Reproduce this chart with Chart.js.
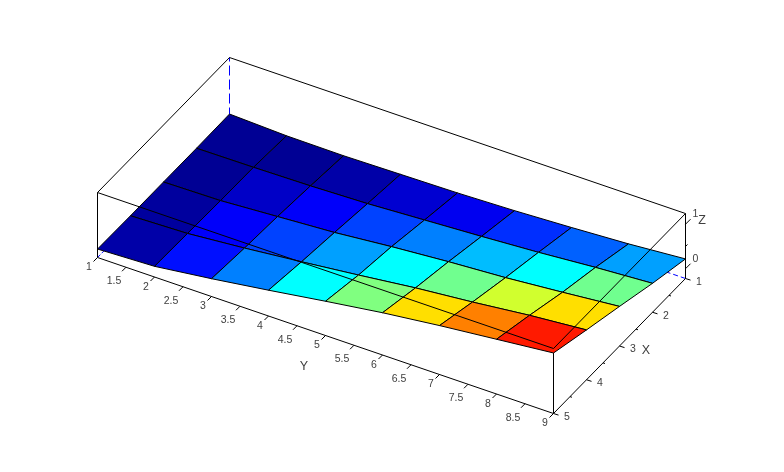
<!DOCTYPE html>
<html>
<head>
<meta charset="utf-8">
<title>Surface</title>
<script src="https://cdn.jsdelivr.net/npm/chart.js@4/dist/chart.umd.min.js"></script>
<style>
    html, body { margin: 0; padding: 0; background: #ffffff; }
    canvas { display: block; }
</style>
</head>
<body>
<canvas id="surface" width="784" height="472"></canvas>
<script>
const xVals = [1, 2, 3, 4, 5];
const yVals = [1, 2, 3, 4, 5, 6, 7, 8, 9];

// surface height, one row per x value
const z1 = [-0.03, -0.08, -0.09, -0.07, -0.05, -0.01, 0.05, 0.12, 0.22];
const z2 = [-0.04, -0.03, -0.01, 0.03, 0.10, 0.17, 0.25, 0.35, 0.43];
const z3 = [-0.04, -0.02, 0.06, 0.14, 0.26, 0.36, 0.44, 0.55, 0.67];
const z4 = [-0.04, 0.00, 0.11, 0.24, 0.38, 0.53, 0.65, 0.79, 0.90];
const z5 = [-0.03, 0.02, 0.18, 0.36, 0.55, 0.73, 0.88, 1.01, 1.14];
const zRows = [z1, z2, z3, z4, z5];

// face colour values (0..1 on the jet map), one row per x interval
const c1 = [0.02, 0.02, 0.04, 0.08, 0.11, 0.17, 0.22, 0.282];
const c2 = [0.02, 0.07, 0.12, 0.19, 0.25, 0.31, 0.375, 0.485];
const c3 = [0.03, 0.12, 0.19, 0.282, 0.375, 0.485, 0.58, 0.656];
const c4 = [0.04, 0.14, 0.25, 0.375, 0.5, 0.656, 0.75, 0.85];
const colorRows = [c1, c2, c3, c4];

const xTicks = [1, 1.5, 2, 2.5, 3, 3.5, 4, 4.5, 5];
const xTickLabels = ['1', '', '2', '', '3', '', '4', '', '5'];
const yTicks = [1, 1.5, 2, 2.5, 3, 3.5, 4, 4.5, 5, 5.5, 6, 6.5, 7, 7.5, 8, 8.5, 9];
const yTickLabels = ['1', '1.5', '2', '2.5', '3', '3.5', '4', '4.5', '5', '5.5', '6', '6.5', '7', '7.5', '8', '8.5', '9'];
const zTicks = [0, 0.5, 1];
const zTickLabels = ['0', '', '1'];
const zMin = -0.22;
const zMax = 1.24;

// view of the 3D box on the page
function project(x, y, z) {
    return {
        x: 229.5 - (x - 1) * 33 + (y - 1) * 57,
        y: 122.5 + (x - 1) * 33.75 + (y - 1) * 19.5 - (z - zMin) * 44.5
    };
}

function jet(t) {
    const clip = v => Math.max(0, Math.min(1, v));
    const r = clip(Math.min(4 * t - 1.5, -4 * t + 4.5));
    const g = clip(Math.min(4 * t - 0.5, -4 * t + 3.5));
    const b = clip(Math.min(4 * t + 0.5, -4 * t + 2.5));
    return `rgb(${Math.round(r * 255)}, ${Math.round(g * 255)}, ${Math.round(b * 255)})`;
}

const lastX = xVals[xVals.length - 1];
const lastY = yVals[yVals.length - 1];
const firstX = xVals[0];
const firstY = yVals[0];
const lineWidth = 1;

const datasets = [];

function addLine(points, color, dash, offset) {
    datasets.push({
        data: points,
        showLine: true,
        fill: false,
        borderColor: color || '#000000',
        borderWidth: lineWidth,
        borderDash: dash || [],
        borderDashOffset: offset || 0,
        pointRadius: 0,
        tension: 0
    });
}

// hidden grid stubs behind the surface
addLine([project(firstX, firstY, zMax), project(firstX, firstY, z1[0])], '#0000ff', [10, 4], 6);
addLine([project(lastX, firstY, zMin), project(lastX - 0.2, firstY, zMin)], '#0000ff', [4, 2]);
addLine([project(firstX, lastY, zMin), project(firstX, lastY - 0.33, zMin)], '#0000ff', [5, 3]);

// surface faces, back to front
for (let i = 0; i < xVals.length - 1; i++) {
    for (let j = 0; j < yVals.length - 1; j++) {
        datasets.push({
            data: [
                project(xVals[i], yVals[j], zRows[i][j]),
                project(xVals[i], yVals[j + 1], zRows[i][j + 1]),
                project(xVals[i + 1], yVals[j + 1], zRows[i + 1][j + 1]),
                project(xVals[i + 1], yVals[j], zRows[i + 1][j]),
                project(xVals[i], yVals[j], zRows[i][j])
            ],
            showLine: true,
            fill: 'shape',
            backgroundColor: jet(colorRows[i][j]),
            borderColor: '#000000',
            borderWidth: lineWidth,
            pointRadius: 0,
            tension: 0
        });
    }
}

// box edges
addLine([project(firstX, firstY, zMax), project(firstX, lastY, zMax), project(lastX, lastY, zMax),
    project(lastX, firstY, zMax), project(firstX, firstY, zMax)]);
addLine([project(lastX, firstY, zMin), project(lastX, firstY, zMax)]);
addLine([project(firstX, lastY, zMin), project(firstX, lastY, zMax)]);
addLine([project(lastX, lastY, zMin), project(lastX, lastY, z5[8])]);
addLine([project(lastX, firstY, zMin), project(lastX, lastY, zMin), project(firstX, lastY, zMin)]);

// tick marks
yTicks.forEach(t => {
    const p = project(lastX, t, zMin);
    addLine([p, { x: p.x - 4, y: p.y + 4 }]);
});
xTicks.forEach((t, i) => {
    const p = project(t, lastY, zMin);
    const len = xTickLabels[i] ? 1 : 0.4;
    addLine([p, { x: p.x + 5 * len, y: p.y + 1.6 * len }]);
});
zTicks.forEach((t, i) => {
    const p = project(firstX, lastY, t);
    const len = zTickLabels[i] ? 1 : 0.4;
    addLine([p, { x: p.x + 5 * len, y: p.y - 5 * len }]);
});

const axisText = {
    id: 'axisText',
    afterDraw(chart) {
        const ctx = chart.ctx;
        const sx = chart.scales.x;
        const sy = chart.scales.y;
        function put(text, p, dx, dy) {
            ctx.fillText(text, sx.getPixelForValue(p.x) + dx, sy.getPixelForValue(p.y) + dy);
        }
        ctx.save();
        ctx.fillStyle = '#404040';
        ctx.textAlign = 'center';
        ctx.textBaseline = 'middle';
        ctx.font = '10.5px "Liberation Sans"';
        yTicks.forEach((t, i) => {
            const long = yTickLabels[i].length > 1;
            put(yTickLabels[i], project(lastX, t, zMin), long ? -12 : -8.5, long ? 14 : 10);
        });
        xTicks.forEach((t, i) => {
            put(xTickLabels[i], project(t, lastY, zMin), 13.5, 3.5);
        });
        zTicks.forEach((t, i) => {
            put(zTickLabels[i], project(firstX, lastY, t), 10, -10);
        });
        ctx.font = '12.5px "Liberation Sans"';
        ctx.fillText('Y', 304, 367);
        ctx.fillText('X', 646, 351);
        ctx.fillText('Z', 702, 221);
        ctx.restore();
    }
};

new Chart(document.getElementById('surface').getContext('2d'), {
    type: 'scatter',
    // the first dataset is painted last, so flip the back to front list
    data: { datasets: datasets.reverse() },
    options: {
        responsive: false,
        animation: false,
        layout: { padding: 0 },
        clip: false,
        plugins: {
            legend: { display: false },
            tooltip: { enabled: false }
        },
        scales: {
            x: { type: 'linear', min: 0, max: 784, display: false },
            y: { type: 'linear', min: 0, max: 472, reverse: true, display: false }
        }
    },
    plugins: [axisText]
});
</script>
</body>
</html>
